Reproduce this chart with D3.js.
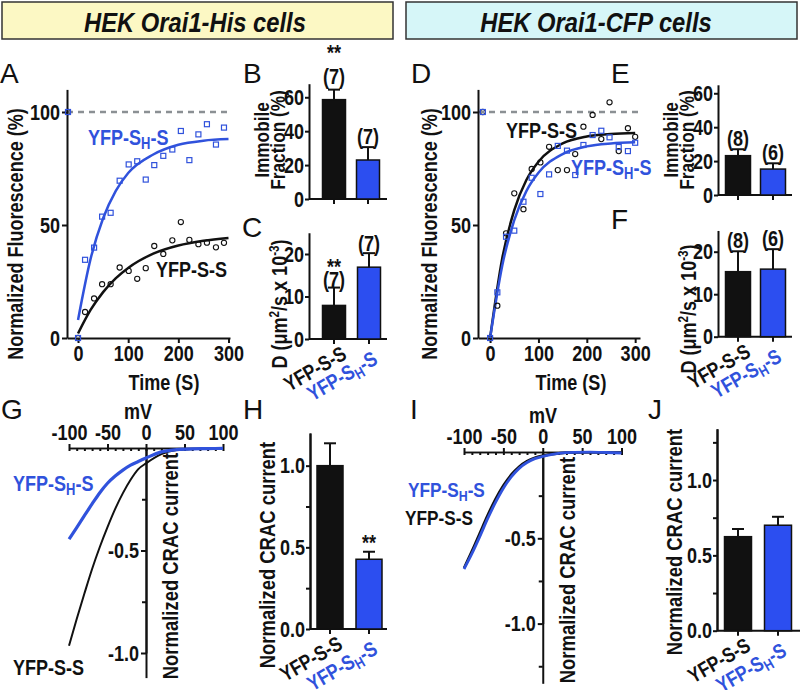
<!DOCTYPE html>
<html>
<head>
<meta charset="utf-8">
<script src="https://cdn.jsdelivr.net/npm/d3@7"></script>
<style>
body{margin:0;background:#fff;}
svg text{font-family:'Liberation Sans',Arial,sans-serif;font-weight:bold;}
svg text.letter{font-weight:normal;}
</style>
</head>
<body>
<svg id="fig" width="800" height="690"></svg>
<script>
const BLUE = "#3052dc", BAR_BLUE = "#2c4ef0", INK = "#111";

// FRAP recovery, Orai1-His cells (panel A)
const tHis = [-20, 0, 14, 32, 48, 65, 83, 101, 118, 135, 152, 170, 188, 205, 222, 240, 257, 275, 291];
const frapHisBlue = [100, 0, 34.6, 40, 53.7, 55.4, 69.6, 76.8, 78.2, 70.1, 76.5, 80.6, 83.4, 91.6, 78.7, 90.1, 94.6, 85.6, 93.1];
const frapHisBlack = [100, 0, 11.5, 17.5, 23.8, 23.8, 31.2, 29.7, 26.2, 30.9, 40.7, 37.2, 43.2, 51.3, 43.4, 41.5, 42.2, 40.1, 42.1];
// FRAP recovery, Orai1-CFP cells (panel D)
const tCfp = [-15, 0, 15, 33, 50, 69, 86, 104, 122, 140, 159, 176, 193, 212, 230, 247, 266, 285, 300];
const frapCfpBlack = [100, 0, 14.3, 46.3, 64, 57, 74.8, 77.7, 84.6, 74.3, 74.3, 81.4, 93.5, 98.7, 88, 104.3, 82.7, 92.8, 89];
const frapCfpBlue = [100, 0, 20.2, 44.8, 47.5, 60.3, 70.9, 63.7, 72.4, 85, 82.9, 72.1, 85.4, 89.8, 91.7, 88.8, 84.5, 82.7, 86.4];
// fitted curves
const fitT = [0, 25, 50, 75, 100, 150, 200, 250, 300];
const fitHisBlue = [8, 35, 53, 65, 73, 81.2, 85.5, 87.3, 88];
const fitHisBlack = [2, 12.4, 20.3, 26.4, 31, 37.3, 40.9, 43, 44.3];
const fitCfpBlack = [0, 35.1, 56.6, 69.9, 78, 86.1, 89.2, 90.3, 90.7];
const fitCfpBlue = [0, 31.9, 52.2, 65, 73.1, 81.4, 84.8, 86.1, 86.6];

// bar panels
const groups = ["YFP-S-S", "YFP-SH-S"];
const immobHis = [58.6, 23.0], immobHisSem = [5.9, 7.6], immobHisN = ["(7)", "(7)"];
const diffHis = [7.9, 16.9], diffHisSem = [4.2, 3.3], diffHisN = ["(7)", "(7)"];
const immobCfp = [23.2, 15.3], immobCfpSem = [3.8, 3.4], immobCfpN = ["(8)", "(6)"];
const diffCfp = [15.3, 15.9], diffCfpSem = [4.8, 4.7], diffCfpN = ["(8)", "(6)"];
const cracHis = [1.0, 0.427], cracHisSem = [0.137, 0.046];
const cracCfp = [0.624, 0.70], cracCfpSem = [0.051, 0.056];

// I-V curves
const mV = [-100, -90, -80, -70, -60, -50, -40, -30, -20, -10, 0, 20, 40, 60, 80, 100];
const ivHisBlack = [-0.965, -0.834, -0.71, -0.59, -0.483, -0.386, -0.297, -0.22, -0.155, -0.103, -0.075, -0.03, -0.01, -0.005, -0.003, -0.002];
const ivHisBlue = [-0.445, -0.388, -0.33, -0.273, -0.218, -0.172, -0.137, -0.108, -0.084, -0.066, -0.049, -0.019, -0.008, -0.004, -0.003, -0.002];
const ivCfpBlack = [-0.675, -0.575, -0.47, -0.365, -0.27, -0.19, -0.127, -0.08, -0.048, -0.028, -0.016, -0.002, 0.003, 0.004, 0.003, 0.002];
const ivCfpBlue = [-0.68, -0.59, -0.49, -0.385, -0.29, -0.207, -0.14, -0.09, -0.056, -0.033, -0.02, -0.002, 0.004, 0.005, 0.003, 0];

const svg = d3.select("#fig");

//writes a group name, with the H as subscript
function putName(text, name) {
    if (name === "YFP-SH-S") {
        text.append("tspan").text("YFP-S");
        text.append("tspan").attr("font-size", "0.72em").attr("dy", "0.28em").text("H");
        text.append("tspan").attr("dy", "-0.2em").text("-S");
    } else {
        text.text(name);
    }
    return text;
}

function styleAxis(g, size) {
    g.attr("font-size", size || 22).attr("font-family", null);
    g.selectAll(".domain").attr("stroke", INK).attr("stroke-width", 2);
    g.selectAll(".tick line").attr("stroke", INK).attr("stroke-width", 2);
    g.selectAll(".tick text").attr("fill", INK);
}

function letter(ch, x, y) {
    svg.append("text").attr("class", "letter").attr("x", x).attr("y", y)
        .attr("font-size", 28).attr("fill", INK).text(ch);
}

// headers
svg.append("rect").attr("x", 2).attr("y", 2).attr("width", 391).attr("height", 37)
    .attr("fill", "#fcf8c4").attr("stroke", "#333").attr("stroke-width", 1.5);
svg.append("text").attr("x", 195).attr("y", 32).attr("text-anchor", "middle").attr("data-sx", 0.88)
    .attr("font-size", 27).attr("font-style", "italic").attr("fill", INK).text("HEK Orai1-His cells");
svg.append("rect").attr("x", 406).attr("y", 2).attr("width", 391).attr("height", 37)
    .attr("fill", "#d6f6f8").attr("stroke", "#333").attr("stroke-width", 1.5);
svg.append("text").attr("x", 596).attr("y", 32).attr("text-anchor", "middle").attr("data-sx", 0.88)
    .attr("font-size", 27).attr("font-style", "italic").attr("fill", INK).text("HEK Orai1-CFP cells");

//FRAP recovery panel: points, fitted curves, dashed 100% line
function frapPanel(o) {
    const x = d3.scaleLinear().domain(o.xDom).range(o.xRange);
    const y = d3.scaleLinear().domain([0, 110]).range([338, 89.4]);
    const g = svg.append("g");
    g.append("line").attr("x1", o.xRange[0]).attr("x2", o.xRange[1])
        .attr("y1", y(100)).attr("y2", y(100))
        .attr("stroke", "#8b9094").attr("stroke-width", 2.5).attr("stroke-dasharray", "6,5");
    const ya = g.append("g").attr("transform", `translate(${o.xRange[0]},0)`)
        .call(d3.axisLeft(y).tickValues([0, 50, 100]).tickSize(5).tickPadding(2).tickSizeOuter(0));
    styleAxis(ya);
    const xa = g.append("g").attr("transform", `translate(0,${y(0)})`)
        .call(d3.axisBottom(x).tickValues([0, 100, 200, 300]).tickSize(5).tickPadding(2).tickSizeOuter(0));
    styleAxis(xa);
    const line = d3.line().x(d => x(d[0])).y(d => y(d[1])).curve(d3.curveMonotoneX);
    o.series.forEach(s => {
        g.append("path").attr("d", line(fitT.map((t, i) => [t, s.fit[i]])))
            .attr("fill", "none").attr("stroke", s.color).attr("stroke-width", 2.5);
    });
    o.series.forEach(s => {
        const pts = o.t.map((t, i) => [t, s.vals[i]]);
        if (s.shape === "square") {
            g.selectAll(null).data(pts).enter().append("rect")
                .attr("x", d => x(d[0]) - 2.5).attr("y", d => y(d[1]) - 2.5)
                .attr("width", 5).attr("height", 5)
                .attr("fill", "none").attr("stroke", s.color).attr("stroke-width", 1.2);
        } else {
            g.selectAll(null).data(pts).enter().append("circle")
                .attr("cx", d => x(d[0])).attr("cy", d => y(d[1])).attr("r", 2.6)
                .attr("fill", "none").attr("stroke", s.color).attr("stroke-width", 1.1);
        }
        putName(g.append("text").attr("x", s.lx).attr("y", s.ly).attr("font-size", 22).attr("fill", s.color), s.name);
    });
    g.append("text").attr("x", o.titleX).attr("y", 390).attr("text-anchor", "middle")
        .attr("font-size", 22).attr("fill", INK).text("Time (S)");
    g.append("text").attr("transform", `translate(${o.yTitleX},234) rotate(-90)`)
        .attr("text-anchor", "middle").attr("font-size", 22).attr("fill", INK)
        .text("Normalized Fluorescence (%)");
}

frapPanel({
    xDom: [-22, 303], xRange: [67, 230], t: tHis, titleX: 164, yTitleX: 23,
    series: [
        {vals: frapHisBlack, fit: fitHisBlack, color: INK, shape: "circle", name: groups[0], lx: 156, ly: 277},
        {vals: frapHisBlue, fit: fitHisBlue, color: BLUE, shape: "square", name: groups[1], lx: 88, ly: 145}
    ]
});
frapPanel({
    xDom: [-25, 310], xRange: [478, 640], t: tCfp, titleX: 571, yTitleX: 437,
    series: [
        {vals: frapCfpBlack, fit: fitCfpBlack, color: INK, shape: "circle", name: groups[0], lx: 506, ly: 138},
        {vals: frapCfpBlue, fit: fitCfpBlue, color: BLUE, shape: "square", name: groups[1], lx: 571, ly: 175}
    ]
});

//bar panel with upward SEM bars
function barPanel(o) {
    const y = d3.scaleLinear().domain(o.yDom).range(o.yRange);
    const g = svg.append("g");
    const ax = d3.axisLeft(y).tickValues(o.ticks).tickSize(4).tickPadding(1).tickSizeOuter(0)
        .tickFormat(o.fmt || (d => d));
    styleAxis(g.append("g").attr("transform", `translate(${o.x0},0)`).call(ax));
    if (o.minor) {
        styleAxis(g.append("g").attr("transform", `translate(${o.x0},0)`)
            .call(d3.axisLeft(y).tickValues(o.minor).tickSize(4).tickFormat("").tickSizeOuter(0)));
    }
    const y0 = y(0);
    g.append("line").attr("x1", o.x0).attr("x2", o.x1).attr("y1", y0).attr("y2", y0)
        .attr("stroke", INK).attr("stroke-width", 2);
    o.centers.forEach((cx, i) => {
        g.append("line").attr("x1", cx).attr("x2", cx).attr("y1", y0).attr("y2", y0 + 5)
            .attr("stroke", INK).attr("stroke-width", 2);
        const top = y(o.vals[i] + o.sems[i]);
        g.append("line").attr("x1", cx).attr("x2", cx).attr("y1", y(o.vals[i])).attr("y2", top)
            .attr("stroke", INK).attr("stroke-width", 2);
        g.append("line").attr("x1", cx - 6).attr("x2", cx + 6).attr("y1", top).attr("y2", top)
            .attr("stroke", INK).attr("stroke-width", 2);
        g.append("rect").attr("x", cx - o.w / 2).attr("y", y(o.vals[i]))
            .attr("width", o.w).attr("height", y0 - y(o.vals[i]))
            .attr("fill", i === 0 ? INK : BAR_BLUE).attr("stroke", INK).attr("stroke-width", 1.5);
        if (o.n) {
            g.append("text").attr("x", cx).attr("y", top - o.nOff[i]).attr("dy", "0.35em")
                .attr("text-anchor", "middle").attr("font-size", 22).attr("fill", INK).text(o.n[i]);
        }
        if (o.stars && o.stars[i]) {
            g.append("text").attr("x", cx).attr("y", top - o.stars[i] + 13)
                .attr("text-anchor", "middle").attr("font-size", 22).attr("fill", INK).text("**");
        }
        if (o.xlabels) {
            const dx = i === 0 ? 14 : 10, dy = i === 0 ? 19 : 24;
            putName(g.append("text").attr("transform", `translate(${cx + dx},${y0 + dy}) rotate(-30)`)
                .attr("text-anchor", "end").attr("font-size", 21).attr("fill", i === 0 ? INK : BLUE), groups[i]);
        }
    });
}

function immobTitle(x) {
    svg.append("text").attr("transform", `translate(${x},140) rotate(-90)`).attr("text-anchor", "middle")
        .attr("font-size", 21).attr("fill", INK).text("Immobile");
    svg.append("text").attr("transform", `translate(${x + 16},140) rotate(-90)`).attr("text-anchor", "middle")
        .attr("font-size", 21).attr("fill", INK).text("Fraction (%)");
}
function diffTitle(x, y) {
    const t = svg.append("text").attr("transform", `translate(${x},${y}) rotate(-90)`).attr("text-anchor", "middle")
        .attr("font-size", 22).attr("fill", INK);
    t.append("tspan").text("D (\u03bcm");
    t.append("tspan").attr("font-size", "0.65em").attr("dy", "-0.55em").text("2");
    t.append("tspan").attr("dy", "0.36em").text("/s x 10");
    t.append("tspan").attr("font-size", "0.65em").attr("dy", "-0.55em").text("-3");
    t.append("tspan").attr("dy", "0.36em").text(")");
}
function cracTitle(x, y) {
    svg.append("text").attr("transform", `translate(${x},${y}) rotate(-90)`).attr("text-anchor", "middle")
        .attr("font-size", 22.5).attr("fill", INK).text("Normalized CRAC current");
}

barPanel({x0: 309, x1: 387, yDom: [0, 68], yRange: [199, 83.7], ticks: [0, 20, 40, 60],
    vals: immobHis, sems: immobHisSem, n: immobHisN, nOff: [13, 11], stars: [43, 0], centers: [334, 368], w: 23});
immobTitle(269);
barPanel({x0: 309, x1: 387, yDom: [0, 25], yRange: [339, 232.75], ticks: [0, 10, 20],
    vals: diffHis, sems: diffHisSem, n: diffHisN, nOff: [8, 10], stars: [27, 0], centers: [334, 369], w: 23, xlabels: true});
diffTitle(287, 304);
barPanel({x0: 718, x1: 792, yDom: [0, 65], yRange: [195, 84.8], ticks: [0, 20, 40, 60],
    vals: immobCfp, sems: immobCfpSem, n: immobCfpN, nOff: [11, 11], centers: [738, 773], w: 25});
immobTitle(678);
barPanel({x0: 718, x1: 792, yDom: [0, 25], yRange: [336.7, 230.45], ticks: [0, 10, 20],
    vals: diffCfp, sems: diffCfpSem, n: diffCfpN, nOff: [11, 11], centers: [738, 773], w: 25, xlabels: true});
diffTitle(696, 309);
barPanel({x0: 310, x1: 387, yDom: [0, 1.2], yRange: [629, 433], ticks: [0, 0.5, 1.0], minor: [0.25, 0.75],
    fmt: d => d.toFixed(1), vals: cracHis, sems: cracHisSem, stars: [0, 15], centers: [330, 369], w: 26, xlabels: true});
cracTitle(275, 555);
barPanel({x0: 717, x1: 800, yDom: [0, 1.34], yRange: [630.7, 428.8], ticks: [0, 0.5, 1.0], minor: [0.25, 0.75, 1.25],
    fmt: d => d.toFixed(1), vals: cracCfp, sems: cracCfpSem, centers: [738, 778], w: 27, xlabels: true});
cracTitle(682, 542);

//current-voltage panel, axes crossing at the origin
function ivPanel(o) {
    const x = d3.scaleLinear().domain([-100, 100]).range(o.xRange);
    const y = d3.scaleLinear().domain([-1, 0]).range([o.yNeg1, o.y0]);
    const g = svg.append("g");
    styleAxis(g.append("g").attr("transform", `translate(0,${o.axisY})`)
        .call(d3.axisBottom(x).tickValues(d3.range(-100, 101, 10)).tickSize(3).tickFormat("").tickSizeOuter(0)));
    const xa = g.append("g").attr("transform", `translate(0,${o.axisY})`)
        .call(d3.axisTop(x).tickValues([-100, -50, 0, 50, 100]).tickSize(4).tickPadding(4)
            .tickSizeOuter(0).tickFormat(d => String(d)));
    styleAxis(xa);
    g.selectAll(".domain").attr("stroke-width", 1.5);
    const ya = g.append("g").attr("transform", `translate(${x(0)},0)`)
        .call(d3.axisLeft(y.copy().domain([o.yMin, 0]).range([y(o.yMin), y(0)]))
            .tickValues([-1.0, -0.5]).tickSize(5).tickPadding(2).tickSizeOuter(0).tickFormat(d => d.toFixed(1)));
    styleAxis(ya);
    styleAxis(g.append("g").attr("transform", `translate(${x(0)},0)`)
        .call(d3.axisLeft(y).tickValues(o.minor).tickSize(4).tickFormat("").tickSizeOuter(0)));
    g.append("text").attr("x", o.mvX).attr("y", o.axisY - 29).attr("text-anchor", "middle")
        .attr("font-size", 22).attr("fill", INK).text("mV");
    const line = d3.line().x(d => x(d[0])).y(d => y(d[1])).curve(d3.curveMonotoneX);
    o.series.forEach(s => {
        g.append("path").attr("d", line(mV.map((v, i) => [v, s.vals[i]])))
            .attr("fill", "none").attr("stroke", s.color).attr("stroke-width", s.width);
        putName(g.append("text").attr("x", s.lx).attr("y", s.ly).attr("font-size", s.size).attr("fill", s.color), s.name);
    });
    g.append("text").attr("transform", `translate(${o.titleX},${o.titleY}) rotate(-90)`)
        .attr("text-anchor", "middle").attr("font-size", 22.5).attr("fill", INK).text("Normalized CRAC current");
}

ivPanel({xRange: [69, 223], y0: 448, yNeg1: 653, axisY: 448, yMin: -1.12, minor: [-0.25, -0.75],
    mvX: 138, titleX: 178, titleY: 566,
    series: [
        {vals: ivHisBlack, color: INK, width: 2, name: groups[0], lx: 13, ly: 675, size: 22},
        {vals: ivHisBlue, color: BLUE, width: 3.2, name: groups[1], lx: 13, ly: 491, size: 22}
    ]});
ivPanel({xRange: [464, 621.5], y0: 453, yNeg1: 623.6, axisY: 452, yMin: -1.35, minor: [-0.25, -0.75, -1.25],
    mvX: 543, titleX: 575, titleY: 570,
    series: [
        {vals: ivCfpBlack, color: INK, width: 2.6, name: groups[0], lx: 405, ly: 525, size: 21},
        {vals: ivCfpBlue, color: BLUE, width: 2.8, name: groups[1], lx: 408, ly: 497, size: 21}
    ]});

letter("A", 0, 83); letter("B", 243, 83); letter("C", 242, 237);
letter("D", 411, 83); letter("E", 611, 83); letter("F", 611, 229);
letter("G", 1, 419); letter("H", 243, 419); letter("I", 410, 419); letter("J", 648, 419);

//condense all bold text to the narrow look of the original figure
svg.selectAll("text:not(.letter)").each(function() {
    const t = d3.select(this);
    const x = +t.attr("x") || 0, y = +t.attr("y") || 0;
    const k = +t.attr("data-sx") || 0.82;
    const tr = t.attr("transform") || "";
    t.attr("x", null).attr("y", null)
        .attr("transform", `${tr} translate(${x},${y}) scale(${k},1)`);
});
</script>
</body>
</html>
